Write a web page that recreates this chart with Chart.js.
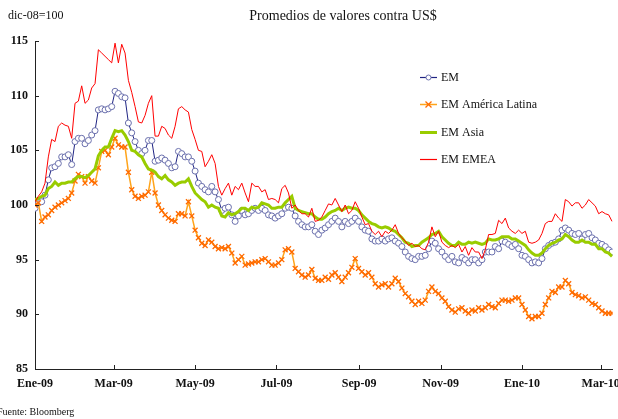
<!DOCTYPE html>
<html>
<head>
<meta charset="utf-8">
<script src="https://cdn.jsdelivr.net/npm/chart.js@4.4.1/dist/chart.umd.min.js"></script>
<style>
html,body{margin:0;padding:0;background:#fff;}
#wrap{position:relative;width:618px;height:419px;overflow:hidden;}
</style>
</head>
<body>
<div id="wrap"><canvas id="c" width="618" height="419"></canvas></div>
<script>
// ---- data, one value every 2.5 calendar days from 1-Jan-2009 ----
const seriesNames = ['EM', 'EM América Latina', 'EM Asia', 'EM EMEA'];

const emValues = [
99.7,100.2,100.3,100.9,102.3,103.4,103.5,103.8,104.4,104.4,104.6,103.7,105.8,106.1,106.1,105.6,105.9,106.4,106.8,108.7,108.8,108.7,108.8,109.0,110.4,110.2,109.9,109.8,107.5,106.6,105.8,105.0,104.7,105.0,105.9,105.9,104.0,104.1,104.3,104.1,103.8,103.4,103.5,104.9,
104.7,104.4,104.4,104.0,103.1,102.0,101.7,101.4,101.2,101.7,101.2,100.5,99.5,99.7,99.8,99.1,98.5,99.0,99.5,99.1,99.2,99.5,99.7,99.5,99.7,99.5,99.1,99.0,98.8,99.0,99.2,99.7,99.8,99.7,99.0,98.5,98.2,98.0,98.0,
98.2,97.6,97.3,97.7,97.9,98.2,98.5,98.8,98.5,98.0,98.5,98.3,98.5,98.8,98.5,98.0,97.7,97.6,96.9,96.7,96.7,96.9,96.7,96.9,97.0,96.7,96.5,96.2,95.7,95.3,95.1,95.0,95.3,95.3,95.4,96.0,96.7,96.5,96.0,95.7,95.3,95.0,95.3,94.8,
94.7,95.2,95.0,94.7,95.0,95.0,94.7,95.0,95.7,95.7,95.7,96.2,96.0,96.7,96.6,96.4,96.2,96.4,96.0,95.4,95.3,95.0,94.7,94.8,94.7,95.1,96.0,96.3,96.5,96.6,96.9,97.7,97.9,97.7,97.4,97.3,97.4,96.9,97.3,97.4,97.0,96.8,96.5,96.4,96.2,95.9,95.7
];

const latamValues = [
100.0,100.2,98.5,98.9,99.1,99.5,99.8,100.0,100.2,100.4,100.6,101.1,102.2,102.8,102.6,102.0,102.6,102.2,102.0,103.4,104.9,105.0,104.6,105.3,106.1,105.5,105.3,105.3,103.0,101.4,100.8,100.6,100.8,100.9,101.2,103.0,101.1,100.0,99.5,99.1,98.8,98.6,98.5,99.2,
99.2,99.0,100.3,99.0,97.7,97.0,96.5,96.3,96.8,96.6,96.2,96.0,96.1,96.0,96.2,95.6,94.7,95.0,95.3,94.5,94.6,94.7,94.8,94.8,95.0,95.1,94.8,94.5,94.5,94.7,95.0,95.9,96.0,95.7,94.2,93.9,93.6,93.4,93.6,
94.1,93.3,93.1,93.1,93.4,93.2,93.6,93.8,93.4,93.0,93.4,93.8,94.3,95.1,94.2,93.9,93.6,93.8,93.4,92.8,92.5,92.7,92.8,92.5,92.8,93.3,93.0,92.4,91.9,91.6,91.2,90.9,91.2,91.0,91.3,92.1,92.5,92.1,91.9,91.5,91.2,90.7,90.4,90.2,
90.5,90.6,90.3,90.1,90.4,90.3,90.6,90.4,90.6,90.9,90.7,90.6,91.0,91.3,91.3,91.2,91.3,91.5,91.5,90.9,90.4,89.8,89.6,89.8,89.8,90.1,90.9,91.5,92.1,92.0,92.5,92.5,93.1,92.8,92.0,91.8,91.7,91.5,91.6,91.3,91.0,90.9,90.6,90.3,90.1,90.1,90.1
];

const asiaValues = [
100.5,100.6,100.8,100.9,101.5,101.7,102.1,101.8,102.0,102.0,102.1,102.1,102.4,102.6,102.6,102.5,102.7,103.0,103.3,104.5,105.0,105.3,105.3,106.1,106.8,106.7,106.8,106.4,105.8,105.0,104.9,104.6,104.4,103.8,103.3,103.2,103.0,102.6,102.4,102.7,102.3,102.1,101.8,102.0,
102.1,102.1,102.4,101.7,101.1,100.8,100.5,100.3,99.8,100.0,99.8,99.7,99.0,98.9,99.3,99.1,99.2,99.4,99.7,99.7,99.5,99.8,99.7,99.8,100.2,100.1,100.0,99.7,99.7,99.8,99.8,100.2,100.5,100.8,99.7,99.5,99.4,99.3,99.2,
99.2,98.9,98.7,98.7,98.9,99.2,99.4,99.5,99.7,99.5,99.7,99.8,99.7,99.7,99.5,99.1,98.8,98.5,98.3,98.2,98.0,97.9,98.0,97.9,97.7,97.6,97.3,97.0,96.6,96.5,96.2,96.3,96.3,96.6,96.8,97.0,97.3,97.4,97.6,97.1,96.8,96.5,96.3,96.3,
96.6,96.4,96.4,96.6,96.5,96.6,96.5,96.4,96.5,96.9,96.8,96.8,96.9,97.1,97.1,97.1,96.9,96.9,96.7,96.5,96.3,95.9,95.6,95.4,95.4,95.6,96.0,96.3,96.5,96.6,96.8,96.9,97.3,97.1,96.8,96.6,96.6,96.8,96.6,96.6,96.4,96.4,96.0,96.0,95.7,95.6,95.3
];

const emeaValues = [
100.3,100.8,101.2,102.0,104.4,106.0,105.8,107.2,107.5,107.3,107.2,106.1,109.3,109.5,110.9,109.3,109.6,110.7,111.1,114.2,113.9,113.6,113.3,113.0,114.8,113.0,114.7,113.9,111.4,110.3,109.0,107.6,107.5,108.2,109.3,110.0,106.3,106.3,107.2,107.0,106.4,106.1,107.2,108.8,
109.0,108.7,108.5,106.9,106.0,105.0,104.9,103.5,104.0,104.6,103.8,101.7,100.9,101.5,102.0,100.9,101.7,101.4,102.0,101.1,100.3,102.0,101.7,101.7,101.2,101.4,100.5,100.6,100.5,100.2,101.5,101.8,101.1,99.7,100.0,99.5,99.2,99.2,98.9,
99.7,98.5,98.6,98.9,99.5,100.1,100.0,100.6,100.0,99.4,100.0,99.2,99.5,100.3,99.7,98.9,98.2,98.3,97.6,97.3,97.6,97.1,97.6,97.4,97.7,98.2,97.4,97.0,96.7,96.3,96.5,96.2,96.3,96.0,95.9,96.6,98.0,97.1,97.6,96.6,96.3,96.1,96.3,96.1,
96.4,95.7,96.2,95.4,96.1,95.7,95.7,95.1,95.9,97.3,97.3,97.4,98.6,98.3,98.8,97.9,97.6,97.4,97.7,97.4,97.6,96.6,96.5,96.6,96.8,97.4,98.3,98.5,98.5,99.2,98.8,98.5,100.5,100.3,99.9,100.2,100.2,99.7,100.0,100.5,100.2,99.9,99.2,99.4,99.2,99.1,98.5
];

// x positions: day offsets since 1-Jan-2009 (sampling grid of 2.5 days)
const sampleStepDays = 2.5;
const dayOffsets = emValues.map((_, i) => i * sampleStepDays);

// x-axis tick positions (days since 1-Jan-2009) and their labels
const tickDays   = [0, 59, 120, 181, 243, 304, 365, 424];
const tickLabels = ['Ene-09', 'Mar-09', 'May-09', 'Jul-09', 'Sep-09', 'Nov-09', 'Ene-10', 'Mar-10'];

// y-axis ticks
const yTicks = [85, 90, 95, 100, 105, 110, 115];

const noteText   = 'dic-08=100';
const titleText  = 'Promedios de valores contra US$';
const sourceText = 'Fuente: Bloomberg';

const SERIF = '"Liberation Serif", "DejaVu Serif", serif';

function pts(vals){ return vals.map((v, i) => ({x: dayOffsets[i], y: v})); }

const overlay = {
  id: 'overlay',
  afterDraw(chart){
    const ctx = chart.ctx, xs = chart.scales.x, ys = chart.scales.y;
    ctx.save();
    // inside tick marks
    ctx.strokeStyle = '#222'; ctx.lineWidth = 1;
    ys.ticks.forEach(t => {
      const y = Math.round(ys.getPixelForValue(t.value)) + 0.5;
      ctx.beginPath(); ctx.moveTo(xs.left, y); ctx.lineTo(xs.left + 4, y); ctx.stroke();
    });
    xs.ticks.forEach(t => {
      const x = Math.round(xs.getPixelForValue(t.value)) + 0.5;
      ctx.beginPath(); ctx.moveTo(x, ys.bottom); ctx.lineTo(x, ys.bottom - 4); ctx.stroke();
    });

    // legend
    const lx0 = 420, lx1 = 437, tx = 441, y0 = 77, dy = 27.4;
    chart.data.datasets.forEach((ds, i) => {
      const y = Math.round(y0 + i * dy) + 0.5;
      ctx.strokeStyle = ds.borderColor;
      ctx.lineWidth = Math.max(ds.borderWidth, 1.2);
      ctx.beginPath(); ctx.moveTo(lx0, y); ctx.lineTo(lx1, y); ctx.stroke();
      const mx = (lx0 + lx1) / 2;
      if (ds.pointStyle === 'circle' && ds.pointRadius > 0) {
        ctx.fillStyle = '#fff'; ctx.strokeStyle = ds.pointBorderColor; ctx.lineWidth = 1;
        ctx.beginPath(); ctx.arc(mx, y, 2.5, 0, Math.PI * 2); ctx.fill(); ctx.stroke();
      } else if (ds.pointStyle === 'crossRot' && ds.pointRadius > 0) {
        ctx.strokeStyle = ds.pointBorderColor; ctx.lineWidth = 1.3;
        const r = 3;
        ctx.beginPath(); ctx.moveTo(mx - r, y - r); ctx.lineTo(mx + r, y + r);
        ctx.moveTo(mx - r, y + r); ctx.lineTo(mx + r, y - r); ctx.stroke();
      }
      ctx.fillStyle = '#111';
      ctx.font = '12px ' + SERIF;
      ctx.textBaseline = 'middle'; ctx.textAlign = 'left';
      ctx.fillText(ds.label, tx, y);
    });

    // texts
    ctx.fillStyle = '#111';
    ctx.textBaseline = 'alphabetic';
    ctx.font = '12px ' + SERIF;
    ctx.textAlign = 'left';
    ctx.fillText(noteText, 8, 19);
    ctx.font = '14px ' + SERIF;
    ctx.textAlign = 'center';
    ctx.fillText(titleText, 343, 20);
    ctx.font = '10px ' + SERIF;
    ctx.textAlign = 'left';
    ctx.fillText(sourceText, -3, 415);
    ctx.restore();
  }
};

new Chart(document.getElementById('c'), {
  type: 'line',
  data: {
    datasets: [
      { label: seriesNames[0], data: pts(emValues), borderColor: '#1f2483', borderWidth: 1,
        pointStyle: 'circle', pointRadius: 3, pointBorderColor: '#6b70ad', pointBackgroundColor: '#ffffff',
        pointBorderWidth: 1, order: 4 },
      { label: seriesNames[1], data: pts(latamValues), borderColor: '#ffa41b', borderWidth: 1.5,
        pointStyle: 'crossRot', pointRadius: 3.5, pointBorderColor: '#ff6a00', pointBackgroundColor: '#ff6a00',
        pointBorderWidth: 1.3, order: 3 },
      { label: seriesNames[2], data: pts(asiaValues), borderColor: '#99cc00', borderWidth: 3,
        pointRadius: 0, order: 2 },
      { label: seriesNames[3], data: pts(emeaValues), borderColor: '#ff0000', borderWidth: 1,
        pointRadius: 0, order: 1 }
    ]
  },
  options: {
    responsive: false,
    animation: false,
    devicePixelRatio: 1,
    events: [],
    layout: { padding: { top: 41, right: 5, bottom: 20, left: 0 } },
    elements: { line: { tension: 0 } },
    plugins: { legend: { display: false }, tooltip: { enabled: false }, title: { display: false } },
    scales: {
      x: {
        type: 'linear', min: 0, max: 433,
        afterBuildTicks: (s) => { s.ticks = tickDays.map(v => ({ value: v })); },
        afterFit: (s) => { s.height = 30; s.paddingLeft = 0; s.paddingRight = 0; },
        grid: { display: true, color: 'rgba(0,0,0,0)', drawTicks: false },
        border: { display: true, color: '#222', width: 1 },
        ticks: {
          autoSkip: false, maxRotation: 0, padding: 8, color: '#111',
          font: { family: SERIF, size: 12, weight: 'bold' },
          callback: (v, i) => tickLabels[i]
        }
      },
      y: {
        min: 85, max: 115,
        afterBuildTicks: (s) => { s.ticks = yTicks.map(v => ({ value: v })); },
        afterFit: (s) => { s.width = 35; s.paddingTop = 0; s.paddingBottom = 0; },
        grid: { display: true, color: 'rgba(0,0,0,0)', drawTicks: false },
        border: { display: true, color: '#222', width: 1 },
        ticks: {
          padding: 7, color: '#111',
          font: { family: SERIF, size: 12, weight: 'bold' },
          callback: (v) => String(v)
        }
      }
    }
  },
  plugins: [overlay]
});
</script>
</body>
</html>
